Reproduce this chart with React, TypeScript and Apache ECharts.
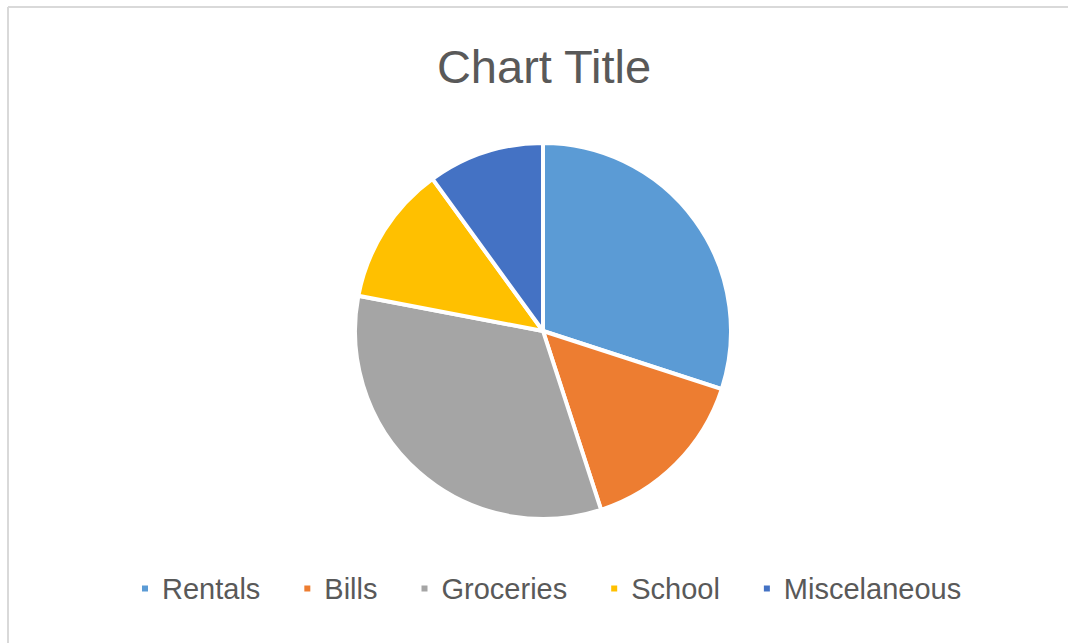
import React, { useEffect, useRef } from "react";
import * as echarts from "echarts";

const categories = ["Rentals", "Bills", "Groceries", "School", "Miscelaneous"];
const values = [30, 15, 33, 12, 10];
const colors = ["#5B9BD5", "#ED7D31", "#A5A5A5", "#FFC000", "#4472C4"];
const titleText = "Chart Title";

export default function App() {
  const ref = useRef<HTMLDivElement>(null);
  useEffect(() => {
    if (!ref.current) return;
    const chart = echarts.init(ref.current, null, { renderer: "svg" });
    chart.setOption({
      animation: false,
      backgroundColor: "#ffffff",
      title: {
        text: titleText,
        left: 539,
        textAlign: "center",
        top: 38,
        textStyle: {
          fontFamily: "Liberation Sans",
          fontSize: 47,
          fontWeight: "normal",
          color: "#595959",
        },
      },
      legend: {
        left: 135,
        top: 569,
        icon: "rect",
        itemWidth: 8,
        itemHeight: 8,
        itemGap: 42,
        textStyle: {
          fontFamily: "Liberation Sans",
          fontSize: 29,
          color: "#595959",
          padding: [0, 0, 0, 8],
        },
        data: categories,
      },
      graphic: [
        { type: "line", shape: { x1: 8, y1: 7, x2: 1068, y2: 7 }, style: { stroke: "#d9d9d9", lineWidth: 2 } },
        { type: "line", shape: { x1: 8, y1: 7, x2: 8, y2: 643 }, style: { stroke: "#d9d9d9", lineWidth: 2 } },
      ],
      series: [
        {
          type: "pie",
          center: [543, 331],
          radius: 188,
          startAngle: 90,
          clockwise: true,
          label: { show: false },
          labelLine: { show: false },
          emphasis: { disabled: true },
          itemStyle: { borderColor: "#ffffff", borderWidth: 4 },
          data: categories.map((name, i) => ({
            name,
            value: values[i],
            itemStyle: { color: colors[i] },
          })),
        },
      ],
    });
    return () => chart.dispose();
  }, []);
  return (
    <div
      ref={ref}
      style={{ position: "absolute", left: 0, top: 0, width: 1068, height: 643 }}
    />
  );
}
